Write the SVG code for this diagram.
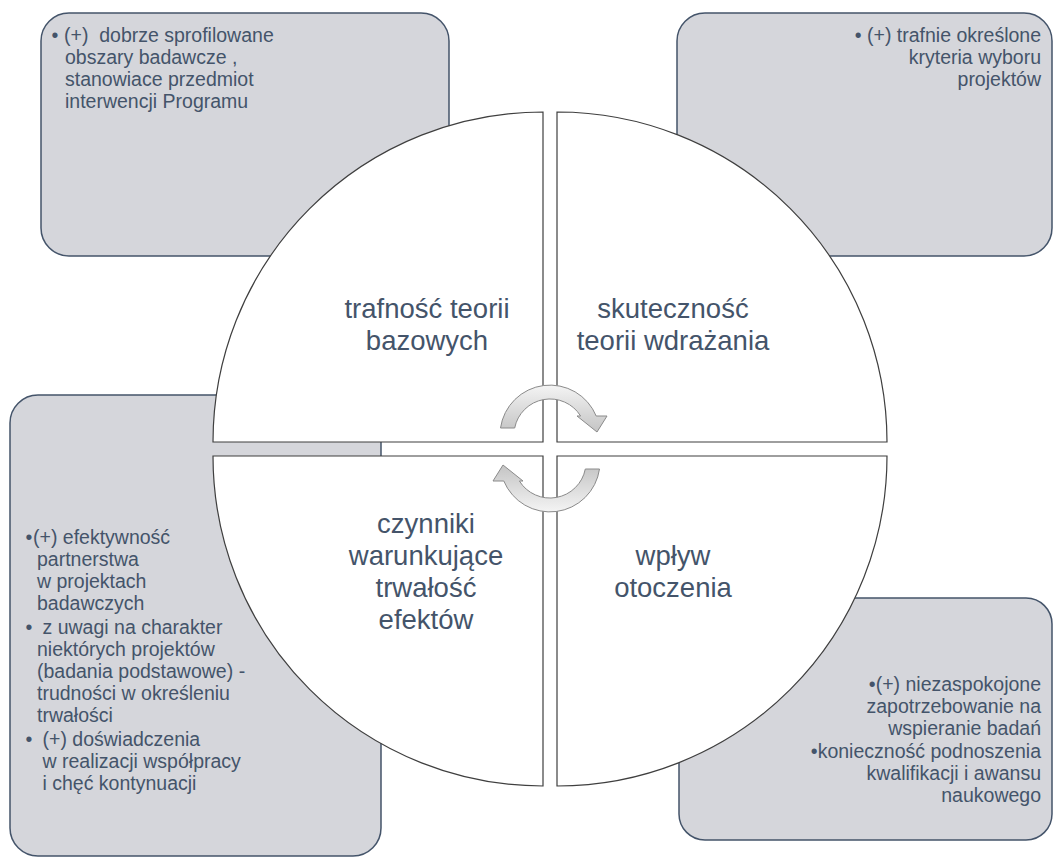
<svg xmlns="http://www.w3.org/2000/svg" width="1053" height="858" viewBox="0 0 1053 858">
<defs>
<style>
.box{fill:#d5d6db;stroke:#44546a;stroke-width:1.5}
.q{fill:#ffffff;stroke:#3f3f3f;stroke-width:1.2}
.t{font-family:"Liberation Sans",Arial,sans-serif;font-size:19.5px;fill:#44546a}
.lab{font-family:"Liberation Sans",Arial,sans-serif;font-size:27.5px;fill:#44546a;text-anchor:middle}
.r{text-anchor:end}
.arr{fill:url(#ag);stroke:#8a8a8a;stroke-width:1}
</style>
<linearGradient id="ag" x1="0" y1="0" x2="0" y2="1">
<stop offset="0" stop-color="#f4f4f4"/>
<stop offset="1" stop-color="#c4c4c4"/>
</linearGradient>
</defs>
<rect width="1053" height="858" fill="#ffffff"/>

<g id="box-top-left">
<rect class="box" x="41" y="13" width="408" height="243" rx="28"/>
<text class="t" x="51.5" y="42">•</text>
<text class="t" x="64" y="42" xml:space="preserve">(+)  dobrze sprofilowane</text>
<text class="t" x="65" y="64">obszary badawcze ,</text>
<text class="t" x="65" y="86">stanowiace przedmiot</text>
<text class="t" x="65" y="108">interwencji Programu</text>
</g>

<g id="box-top-right">
<rect class="box" x="677" y="13" width="375" height="243" rx="28"/>
<text class="t r" x="1041" y="42">• (+) trafnie określone</text>
<text class="t r" x="1041" y="64">kryteria wyboru</text>
<text class="t r" x="1041" y="86">projektów</text>
</g>

<g id="box-bottom-left">
<rect class="box" x="10" y="395" width="371" height="461" rx="28"/>
<text class="t" x="25.5" y="544">•</text>
<text class="t" x="33" y="544">(+) efektywność</text>
<text class="t" x="37" y="566">partnerstwa</text>
<text class="t" x="37" y="588">w projektach</text>
<text class="t" x="37" y="610">badawczych</text>
<text class="t" x="25.5" y="634">•</text>
<text class="t" x="42.5" y="634">z uwagi na charakter</text>
<text class="t" x="37" y="656">niektórych projektów</text>
<text class="t" x="37" y="678">(badania podstawowe) -</text>
<text class="t" x="37" y="700">trudności w określeniu</text>
<text class="t" x="37" y="722">trwałości</text>
<text class="t" x="25.5" y="746">•</text>
<text class="t" x="42.5" y="746">(+) doświadczenia</text>
<text class="t" x="42.5" y="768">w realizacji współpracy</text>
<text class="t" x="42.5" y="790">i chęć kontynuacji</text>
</g>

<g id="box-bottom-right">
<rect class="box" x="679" y="598" width="373" height="242" rx="26"/>
<text class="t r" x="1041" y="691">•(+) niezaspokojone</text>
<text class="t r" x="1041" y="713">zapotrzebowanie na</text>
<text class="t r" x="1041" y="735">wspieranie badań</text>
<text class="t r" x="1041" y="758">•konieczność podnoszenia</text>
<text class="t r" x="1041" y="780">kwalifikacji i awansu</text>
<text class="t r" x="1041" y="802">naukowego</text>
</g>

<g id="q-top-left">
<path class="q" d="M543,442 L213,442 A330,330 0 0 1 543,112 Z"/>
<text class="lab" x="427" y="318">trafność teorii</text>
<text class="lab" x="427" y="350">bazowych</text>
</g>

<g id="q-top-right">
<path class="q" d="M557,442 L557,112 A330,330 0 0 1 887,442 Z"/>
<text class="lab" x="673" y="318">skuteczność</text>
<text class="lab" x="673" y="350">teorii wdrażania</text>
</g>

<g id="q-bottom-left">
<path class="q" d="M543,456 L543,786 A330,330 0 0 1 213,456 Z"/>
<text class="lab" x="426" y="533">czynniki</text>
<text class="lab" x="426" y="565">warunkujące</text>
<text class="lab" x="426" y="597">trwałość</text>
<text class="lab" x="426" y="629">efektów</text>
</g>

<g id="q-bottom-right">
<path class="q" d="M557,456 L887,456 A330,330 0 0 1 557,786 Z"/>
<text class="lab" x="673" y="565">wpływ</text>
<text class="lab" x="673" y="597">otoczenia</text>
</g>

<g id="connectors">
<path class="arr" d="M500.5,428 A50,50 0 0 1 596.2,416 L607,416 L597,432 L577,416 L580.6,416 A36,36 0 0 0 514.7,428 Z"/>
<path class="arr" transform="rotate(180 550 448.5)" d="M500.5,428 A50,50 0 0 1 596.2,416 L607,416 L597,432 L577,416 L580.6,416 A36,36 0 0 0 514.7,428 Z"/>
</g>
</svg>
